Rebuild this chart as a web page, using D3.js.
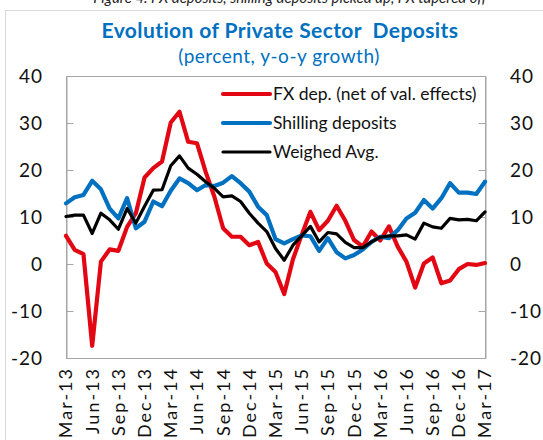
<!DOCTYPE html>
<html>
<head>
<meta charset="utf-8">
<script src="https://cdn.jsdelivr.net/npm/d3@7"></script>
<style>
  html, body { margin: 0; padding: 0; background: #fff; }
  svg { display: block; }
</style>
</head>
<body>
<svg id="chart" width="543" height="440"></svg>
<script>
// Monthly y-o-y growth, Mar-13 .. Mar-17 (49 months)
const fxDeposits = [6.0, 3.0, 2.1, -17.4, 0.5, 3.1, 2.8, 7.9, 10.8, 18.4, 20.4, 21.8,
  30.1, 32.4, 26.0, 25.7, 19.6, 14.3, 7.6, 5.8, 5.8, 4.0, 4.7, 0.1,
  -1.7, -6.4, 1.0, 6.2, 11.1, 7.2, 9.2, 12.4, 9.2, 5.1, 3.7, 6.9,
  5.0, 8.0, 3.7, 0.5, -5.0, 0.1, 1.4, -4.1, -3.5, -1.1, 0.0, -0.2, 0.2];
const shillingDeposits = [12.9, 14.2, 14.7, 17.7, 15.9, 11.8, 9.7, 14.0, 7.6, 9.0, 13.3, 12.3,
  15.6, 18.2, 17.2, 15.7, 16.8, 16.6, 17.3, 18.7, 17.2, 15.4, 12.2, 10.4,
  5.3, 4.4, 5.3, 6.1, 5.9, 2.8, 5.5, 2.5, 1.2, 1.9, 3.1, 4.7,
  5.8, 5.5, 7.2, 9.7, 10.9, 13.6, 11.8, 14.0, 17.2, 15.2, 15.2, 14.9, 17.5];
const weighedAvg = [10.1, 10.4, 10.4, 6.5, 10.8, 9.4, 7.4, 11.8, 8.7, 12.3, 15.7, 15.8,
  20.9, 23.0, 20.4, 19.1, 17.5, 16.1, 14.3, 14.5, 13.3, 10.8, 8.7, 6.9,
  3.3, 0.8, 4.0, 6.0, 8.0, 4.7, 6.7, 6.4, 4.6, 3.5, 3.5, 4.7,
  5.7, 6.0, 6.0, 6.2, 5.3, 8.7, 7.9, 7.6, 9.7, 9.4, 9.5, 9.2, 11.1];
const xTickLabels = ["Mar-13", "Jun-13", "Sep-13", "Dec-13", "Mar-14", "Jun-14", "Sep-14", "Dec-14",
  "Mar-15", "Jun-15", "Sep-15", "Dec-15", "Mar-16", "Jun-16", "Sep-16", "Dec-16", "Mar-17"];
const yTicks = [-20, -10, 0, 10, 20, 30, 40];
const seriesNames = ["FX dep. (net of val. effects)", "Shilling deposits", "Weighed Avg."];

const series = [
  { name: seriesNames[0], values: fxDeposits, color: "#e30613", width: 4.2 },
  { name: seriesNames[1], values: shillingDeposits, color: "#0070c0", width: 4.2 },
  { name: seriesNames[2], values: weighedAvg, color: "#000000", width: 3.2 }
];

const svg = d3.select("#chart");
const font = "Lato, 'Open Sans', sans-serif";
const plot = { left: 66, right: 485, top: 76, bottom: 358 };

const x = d3.scaleLinear().domain([0, fxDeposits.length - 1]).range([plot.left, plot.right]);
const y = d3.scaleLinear().domain([-20, 40]).range([plot.bottom, plot.top]);

// outer chart frame
svg.append("rect")
  .attr("x", 5.5).attr("y", 10.5).attr("width", 560).attr("height", 460)
  .attr("fill", "none").attr("stroke", "#d9d9d9").attr("stroke-width", 1);

// caption running above the frame
svg.append("text")
  .attr("x", 290).attr("y", 2.5)
  .attr("text-anchor", "middle")
  .attr("font-family", font).attr("font-style", "italic").attr("font-size", 15)
  .attr("fill", "#222")
  .text("Figure 4. FX deposits, shilling deposits picked up, FX tapered off");

// titles
svg.append("text")
  .attr("x", 280).attr("y", 38)
  .attr("text-anchor", "middle")
  .attr("font-family", font).attr("font-weight", "bold").attr("font-size", 21)
  .attr("letter-spacing", 0.4)
  .attr("fill", "#0070c0")
  .style("white-space", "pre")
  .text("Evolution of Private Sector  Deposits");
svg.append("text")
  .attr("x", 279).attr("y", 63)
  .attr("text-anchor", "middle")
  .attr("font-family", font).attr("font-size", 19)
  .attr("letter-spacing", 0.5)
  .attr("fill", "#0070c0")
  .text("(percent, y-o-y growth)");

// plot border
svg.append("rect")
  .attr("x", plot.left + 0.5).attr("y", plot.top + 0.5)
  .attr("width", plot.right - plot.left).attr("height", plot.bottom - plot.top)
  .attr("fill", "none").attr("stroke", "#a6a6a6").attr("stroke-width", 1);

// left & right value axes (ticks point inward)
const leftAxis = d3.axisRight(y).tickValues(yTicks).tickSize(7).tickFormat("");
const rightAxis = d3.axisLeft(y).tickValues(yTicks).tickSize(7).tickFormat("");
const gl = svg.append("g").attr("transform", `translate(${plot.left + 0.5},0)`).call(leftAxis);
const gr = svg.append("g").attr("transform", `translate(${plot.right + 0.5},0)`).call(rightAxis);
[gl, gr].forEach(g => {
  g.select(".domain").attr("stroke", "#a6a6a6");
  g.selectAll(".tick line").attr("stroke", "#a6a6a6");
});

svg.append("g").selectAll("text").data(yTicks).join("text")
  .attr("x", 43).attr("y", d => y(d)).attr("dy", "0.35em")
  .attr("text-anchor", "end")
  .attr("font-family", font).attr("font-size", 19).attr("letter-spacing", 1)
  .attr("fill", "#111")
  .text(d => d);
svg.append("g").selectAll("text").data(yTicks).join("text")
  .attr("x", 510).attr("y", d => y(d)).attr("dy", "0.35em")
  .attr("text-anchor", "start")
  .attr("font-family", font).attr("font-size", 19).attr("letter-spacing", 1)
  .attr("fill", "#111")
  .text(d => d);

// x labels every quarter, rotated
svg.append("g").selectAll("text").data(xTickLabels).join("text")
  .attr("transform", (d, i) => `translate(${x(i * 3)},367) rotate(-90)`)
  .attr("dy", "0.36em")
  .attr("text-anchor", "end")
  .attr("font-family", font).attr("font-size", 18).attr("letter-spacing", 2)
  .attr("fill", "#111")
  .text(d => d);

// series lines
const line = d3.line().x((d, i) => x(i)).y(d => y(d));
svg.append("g").selectAll("path").data(series).join("path")
  .attr("d", d => line(d.values))
  .attr("fill", "none")
  .attr("stroke", d => d.color)
  .attr("stroke-width", d => d.width)
  .attr("stroke-linejoin", "round")
  .attr("stroke-linecap", "round");

// legend
const legend = svg.append("g").selectAll("g").data(series).join("g")
  .attr("transform", (d, i) => `translate(223,${94 + i * 29})`);
legend.append("line")
  .attr("x1", 0).attr("x2", 47).attr("y1", 0).attr("y2", 0)
  .attr("stroke", d => d.color).attr("stroke-width", d => d.width)
  .attr("stroke-linecap", "round");
legend.append("text")
  .attr("x", 50).attr("y", 0).attr("dy", "0.35em")
  .attr("font-family", font).attr("font-size", 17.5).attr("fill", "#111")
  .text(d => d.name);
</script>
</body>
</html>
